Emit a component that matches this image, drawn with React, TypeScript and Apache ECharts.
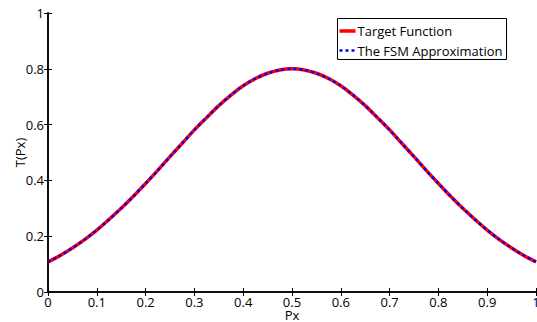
import React, { useEffect, useRef } from "react";
import * as echarts from "echarts";

const pxValues = [0, 0.025, 0.05, 0.075, 0.1, 0.125, 0.15, 0.175, 0.2, 0.225, 0.25, 0.275, 0.3, 0.325, 0.35, 0.375, 0.4, 0.425, 0.45, 0.475, 0.5, 0.525, 0.55, 0.575, 0.6, 0.625, 0.65, 0.675, 0.7, 0.725, 0.75, 0.775, 0.8, 0.825, 0.85, 0.875, 0.9, 0.925, 0.95, 0.975, 1];
const targetValues = [0.108, 0.131, 0.158, 0.188, 0.222, 0.26, 0.3, 0.343, 0.389, 0.436, 0.485, 0.533, 0.581, 0.625, 0.668, 0.706, 0.739, 0.765, 0.784, 0.796, 0.8, 0.796, 0.784, 0.765, 0.739, 0.706, 0.668, 0.625, 0.581, 0.533, 0.485, 0.436, 0.389, 0.343, 0.3, 0.26, 0.222, 0.188, 0.158, 0.131, 0.108];
const fsmValues = [0.108, 0.131, 0.158, 0.188, 0.222, 0.26, 0.3, 0.343, 0.389, 0.436, 0.485, 0.533, 0.581, 0.625, 0.668, 0.706, 0.739, 0.765, 0.784, 0.796, 0.8, 0.796, 0.784, 0.765, 0.739, 0.706, 0.668, 0.625, 0.581, 0.533, 0.485, 0.436, 0.389, 0.343, 0.3, 0.26, 0.222, 0.188, 0.158, 0.131, 0.108];
const seriesNames = ["Target Function", "The FSM Approximation"];
const xAxisName = "Px";
const yAxisName = "T(Px)";

export default function App() {
  const ref = useRef<HTMLDivElement>(null);
  useEffect(() => {
    document.body.style.margin = "0";
    const chart = echarts.init(ref.current!, null, { renderer: "svg" });
    const font = "Open Sans";
    const fmt = (v: number) => String(Math.round(v * 10) / 10);
    const line = { show: true, lineStyle: { color: "#000", width: 1.5 } };
    const tick = { show: true, inside: true, length: 4, lineStyle: { color: "#000", width: 1 } };
    const label = { fontFamily: font, fontSize: 13, lineHeight: 13, color: "#000", formatter: fmt };
    const textStyle = { fontFamily: font, fontSize: 13, fill: "#000", verticalAlign: "middle" };
    chart.setOption({
      animation: false,
      grid: { left: 48, right: 1, top: 13, bottom: 30, containLabel: false, outerBoundsMode: "none" },
      xAxis: [
        {
          type: "value", min: 0, max: 1, interval: 0.1, position: "bottom",
          name: xAxisName, nameLocation: "middle", nameGap: 16, nameMoveOverlap: false,
          nameTextStyle: { fontFamily: font, fontSize: 13, lineHeight: 13, color: "#000" },
          axisLine: line, axisTick: tick, splitLine: { show: false },
          axisLabel: { ...label, margin: 3 },
        },
        {
          type: "value", min: 0, max: 1, interval: 0.1, position: "top",
          axisLine: line, axisTick: tick, splitLine: { show: false }, axisLabel: { show: false },
        },
      ],
      yAxis: [
        {
          type: "value", min: 0, max: 1, interval: 0.2, position: "left",
          name: yAxisName, nameLocation: "middle", nameGap: 22, nameRotate: 90, nameMoveOverlap: false,
          nameTextStyle: { fontFamily: font, fontSize: 13, color: "#000" },
          axisLine: line, axisTick: tick, splitLine: { show: false },
          axisLabel: { ...label, margin: 4 },
        },
        {
          type: "value", min: 0, max: 1, interval: 0.2, position: "right",
          axisLine: line, axisTick: tick, splitLine: { show: false }, axisLabel: { show: false },
        },
      ],
      series: [
        {
          name: seriesNames[0], type: "line", smooth: 0.3, symbol: "none", showSymbol: false,
          data: pxValues.map((x, i) => [x, targetValues[i]]),
          lineStyle: { color: "#ff0000", width: 3.5 }, itemStyle: { color: "#ff0000" },
        },
        {
          name: seriesNames[1], type: "line", smooth: 0.3, symbol: "none", showSymbol: false,
          data: pxValues.map((x, i) => [x, fsmValues[i]]),
          lineStyle: { color: "#0000ff", width: 2.5, type: [3, 3] }, itemStyle: { color: "#0000ff" },
        },
      ],
      graphic: [
        {
          type: "group", left: 337, top: 18,
          children: [
            { type: "rect", shape: { x: 0, y: 0, width: 169, height: 41 }, style: { fill: "#fff", stroke: "#000", lineWidth: 1 } },
            { type: "line", shape: { x1: 2, y1: 12.5, x2: 18, y2: 12.5 }, style: { stroke: "#ff0000", lineWidth: 3.5 } },
            { type: "line", shape: { x1: 2, y1: 32, x2: 18, y2: 32 }, style: { stroke: "#0000ff", lineWidth: 2.5, lineDash: [3, 3] } },
            { type: "text", x: 20, y: 12.5, style: { ...textStyle, text: seriesNames[0] } },
            { type: "text", x: 20, y: 32, style: { ...textStyle, text: seriesNames[1] } },
          ],
        },
      ],
    });
    return () => chart.dispose();
  }, []);
  return <div ref={ref} style={{ width: 537, height: 322 }} />;
}
